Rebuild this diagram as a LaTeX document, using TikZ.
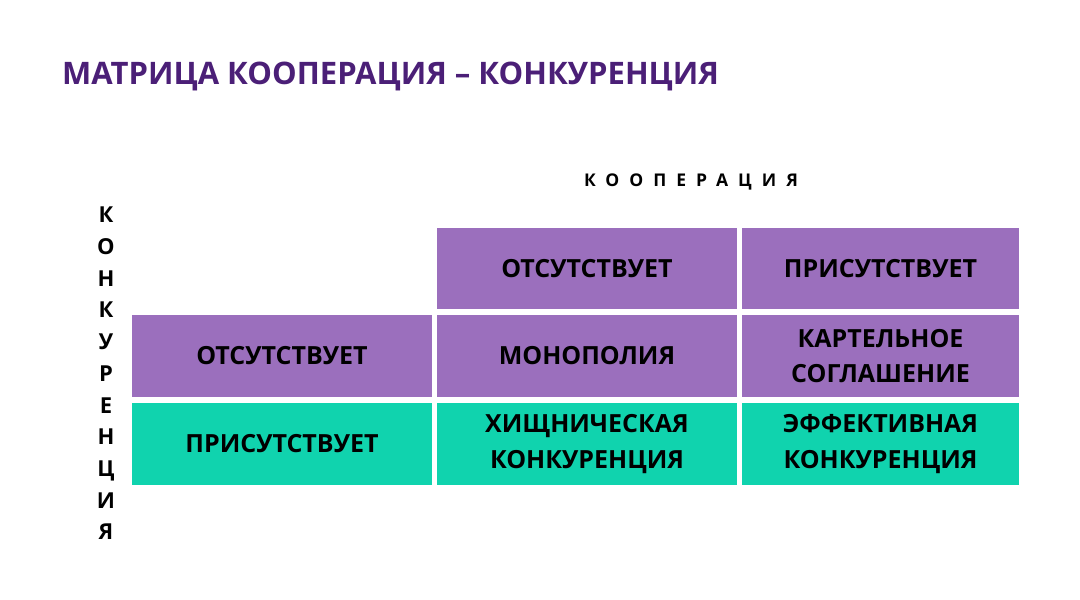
\documentclass[tikz,border=0pt]{standalone}
\usepackage{fontspec}
\setmainfont{Open Sans}
\usepackage{tikz}
\usetikzlibrary{positioning}
\definecolor{lilac}{HTML}{9B6FBD}
\definecolor{mint}{HTML}{10D3AE}
\definecolor{plum}{HTML}{4B1F77}

\begin{document}
\begin{tikzpicture}[x=1pt,y=-1pt,
    cell/.style={inner sep=0pt, align=center, text=black,
      font=\bfseries\fontsize{25}{35.5}\selectfont},
    no/.style={cell, fill=lilac},
    yes/.style={cell, fill=mint}]
  \useasboundingbox (0,0) rectangle (1080,600);
  \node (title) at (62,76) [right, inner sep=0pt, text=plum,
    font=\bfseries\fontsize{31}{38}\selectfont] {МАТРИЦА КООПЕРАЦИЯ – КОНКУРЕНЦИЯ};
  \node (coop) at (691,182) [inner sep=0pt,
    font=\bfseries\fontsize{17.5}{20}\selectfont\addfontfeature{LetterSpace=57}] {КООПЕРАЦИЯ};
  \node (comp) at (106,373.5) [inner sep=0pt, align=center,
    font=\bfseries\fontsize{22}{31.7}\selectfont] {К\\О\\Н\\К\\У\\Р\\Е\\Н\\Ц\\И\\Я};
  % header row
  \node (h1) at (587,268.5) [no, minimum width=300pt, minimum height=81pt] {ОТСУТСТВУЕТ};
  \node (h2) at (880.5,268.5) [no, minimum width=277pt, minimum height=81pt] {ПРИСУТСТВУЕТ};
  % row labels
  \node (r1) at (282,356) [no, minimum width=300pt, minimum height=82pt] {ОТСУТСТВУЕТ};
  \node (r2) at (282,444) [yes, minimum width=300pt, minimum height=82pt] {ПРИСУТСТВУЕТ};
  % matrix
  \node (m11) at (587,356) [no, minimum width=300pt, minimum height=82pt] {МОНОПОЛИЯ};
  \node (m12) at (880.5,356) [no, minimum width=277pt, minimum height=82pt] {КАРТЕЛЬНОЕ\\СОГЛАШЕНИЕ};
  \node (m21) at (587,444) [yes, minimum width=300pt, minimum height=82pt] {ХИЩНИЧЕСКАЯ\\КОНКУРЕНЦИЯ};
  \node (m22) at (880.5,444) [yes, minimum width=277pt, minimum height=82pt] {ЭФФЕКТИВНАЯ\\КОНКУРЕНЦИЯ};
\end{tikzpicture}
\end{document}
